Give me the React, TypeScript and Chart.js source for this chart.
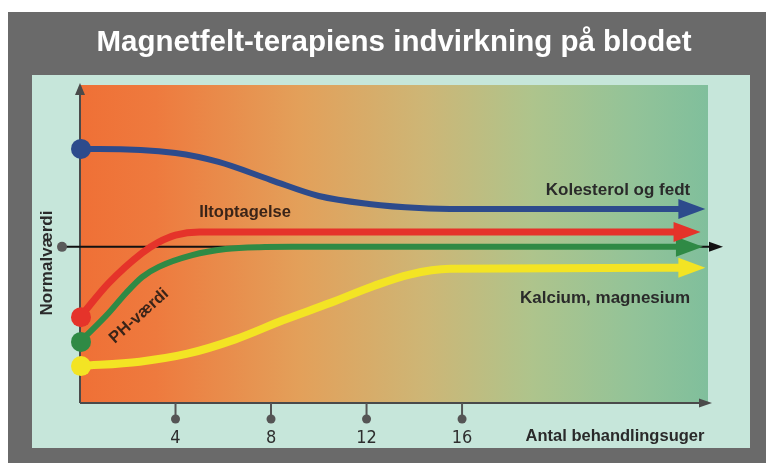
import React, { useEffect, useRef } from "react";
import { Chart, registerables } from "chart.js";

Chart.register(...registerables);

const TITLE = "Magnetfelt-terapiens indvirkning på blodet";
const X_LABEL = "Antal behandlingsuger";
const Y_LABEL = "Normalværdi";
const X_TICKS = [4, 8, 12, 16];
const NORMAL = 49.1;
const X_MAX = 26.3;

const SERIES_NAMES = ["Kolesterol og fedt", "Iltoptagelse", "PH-værdi", "Kalcium, magnesium"];

const kolesterolWeeks = [0, 0.8, 4.0, 5.8, 8.0, 10.0, 12.1, 14.2, 16.0, 25.1];
const kolesterolValues = [79.9, 79.9, 78.6, 75.8, 70.1, 65.1, 62.6, 61.3, 61.0, 61.0];

const iltWeeks = [0, 1.2, 2.6, 3.3, 4.0, 5.0, 24.9];
const iltValues = [27.0, 37.7, 47.2, 50.6, 52.8, 53.8, 53.8];

const phWeeks = [0, 1.2, 1.93, 2.6, 3.3, 4.7, 6.1, 7.5, 8.9, 25.0];
const phValues = [19.2, 28.3, 34.6, 39.6, 42.8, 46.5, 48.4, 49.0, 49.1, 49.1];

const kalciumWeeks = [0, 2.5, 4.5, 6.5, 8.5, 10.5, 12.3, 13.8, 15.5, 25.1];
const kalciumValues = [11.6, 13.0, 15.5, 20.0, 26.0, 31.5, 36.8, 40.4, 42.2, 42.5];

const COLORS = ["#2d4b8c", "#e5332a", "#2f8a45", "#f3e424"];
const WIDTHS = [6, 7, 6, 8];
const DOT_R = [10, 10, 10, 10];

const FONT = "'Liberation Sans', Arial, sans-serif";
const NARROW = "'Liberation Sans Narrow', 'DejaVu Sans Condensed', 'Liberation Sans', sans-serif";

function pts(xs: number[], ys: number[]) {
  return xs.map((x, i) => ({ x, y: ys[i] }));
}

const decorPlugin = {
  id: "decor",
  beforeDraw(chart: any) {
    const { ctx, chartArea: a } = chart;
    ctx.save();
    ctx.fillStyle = "#ffffff";
    ctx.fillRect(0, 0, chart.width, chart.height);
    ctx.fillStyle = "#6a6a6a";
    ctx.fillRect(8, 12, chart.width - 8, chart.height - 12);
    ctx.fillStyle = "#c6e6da";
    ctx.fillRect(32, 75, 750 - 32, 448 - 75);
    const g = ctx.createLinearGradient(a.left, 0, a.right, 0);
    g.addColorStop(0, "#ef7036");
    g.addColorStop(0.12, "#ee7a3e");
    g.addColorStop(0.35, "#e3a05a");
    g.addColorStop(0.55, "#cdb676");
    g.addColorStop(0.72, "#aec48c");
    g.addColorStop(0.88, "#93c398");
    g.addColorStop(1, "#80bf9c");
    ctx.fillStyle = g;
    ctx.fillRect(a.left, a.top, a.right - a.left, a.bottom - a.top);
    ctx.restore();
  },
  beforeDatasetsDraw(chart: any) {
    const { ctx, chartArea: a, scales } = chart;
    const xs = scales.x;
    const ys = scales.y;
    ctx.save();
    const axisCol = "#4a4a4a";
    ctx.strokeStyle = axisCol;
    ctx.fillStyle = axisCol;
    ctx.lineWidth = 2;
    // y axis
    ctx.beginPath();
    ctx.moveTo(a.left, a.bottom);
    ctx.lineTo(a.left, a.top + 8);
    ctx.stroke();
    ctx.beginPath();
    ctx.moveTo(a.left, a.top - 2);
    ctx.lineTo(a.left - 5, a.top + 10);
    ctx.lineTo(a.left + 5, a.top + 10);
    ctx.closePath();
    ctx.fill();
    // x axis
    ctx.beginPath();
    ctx.moveTo(a.left, a.bottom);
    ctx.lineTo(a.right - 6, a.bottom);
    ctx.stroke();
    ctx.beginPath();
    ctx.moveTo(a.right + 4, a.bottom);
    ctx.lineTo(a.right - 9, a.bottom - 4.5);
    ctx.lineTo(a.right - 9, a.bottom + 4.5);
    ctx.closePath();
    ctx.fill();
    // ticks
    ctx.fillStyle = "#555555";
    ctx.strokeStyle = "#555555";
    X_TICKS.forEach((t) => {
      const px = xs.getPixelForValue(t);
      ctx.beginPath();
      ctx.moveTo(px, a.bottom);
      ctx.lineTo(px, a.bottom + 14);
      ctx.stroke();
      ctx.beginPath();
      ctx.arc(px, a.bottom + 16, 4.5, 0, Math.PI * 2);
      ctx.fill();
    });
    ctx.fillStyle = "#2e2e2e";
    ctx.font = `18px ${NARROW}`;
    ctx.textAlign = "center";
    ctx.textBaseline = "middle";
    X_TICKS.forEach((t) => {
      ctx.fillText(String(t), xs.getPixelForValue(t), a.bottom + 35);
    });
    // x label
    ctx.fillStyle = "#2a2a2a";
    ctx.font = `bold 16.5px ${FONT}`;
    ctx.fillText(X_LABEL, 615, a.bottom + 33);
    // normal line
    const ny = ys.getPixelForValue(NORMAL);
    ctx.strokeStyle = "#111111";
    ctx.fillStyle = "#111111";
    ctx.lineWidth = 2;
    ctx.beginPath();
    ctx.moveTo(62, ny);
    ctx.lineTo(a.right + 5, ny);
    ctx.stroke();
    ctx.beginPath();
    ctx.moveTo(a.right + 15, ny);
    ctx.lineTo(a.right + 1, ny - 5);
    ctx.lineTo(a.right + 1, ny + 5);
    ctx.closePath();
    ctx.fill();
    ctx.fillStyle = "#5a5a5a";
    ctx.beginPath();
    ctx.arc(62, ny, 5, 0, Math.PI * 2);
    ctx.fill();
    // y label
    ctx.save();
    ctx.translate(47, 263);
    ctx.rotate(-Math.PI / 2);
    ctx.fillStyle = "#2a2a2a";
    ctx.font = `bold 17px ${FONT}`;
    ctx.textAlign = "center";
    ctx.textBaseline = "middle";
    ctx.fillText(Y_LABEL, 0, 0);
    ctx.restore();
    ctx.restore();
  },
  afterDatasetsDraw(chart: any) {
    const { ctx } = chart;
    ctx.save();
    chart.data.datasets.forEach((ds: any, i: number) => {
      const meta = chart.getDatasetMeta(i);
      const els = meta.data;
      const last = els[els.length - 1];
      const x = last.x;
      const y = last.y;
      ctx.fillStyle = ds.borderColor;
      ctx.beginPath();
      ctx.moveTo(x + 26, y);
      ctx.lineTo(x - 1, y - 10);
      ctx.lineTo(x - 1, y + 10);
      ctx.closePath();
      ctx.fill();
      const first = els[0];
      ctx.beginPath();
      ctx.arc(first.x + 1, first.y, DOT_R[i], 0, Math.PI * 2);
      ctx.fill();
    });
    ctx.fillStyle = "#2a2a2a";
    ctx.textAlign = "center";
    ctx.textBaseline = "middle";
    ctx.font = `bold 17px ${FONT}`;
    ctx.fillText(SERIES_NAMES[0], 618, 190);
    ctx.fillText(SERIES_NAMES[3], 605, 298);
    ctx.font = `bold 16.5px ${FONT}`;
    ctx.fillStyle = "#3a2418";
    ctx.fillText(SERIES_NAMES[1], 245, 212);
    ctx.save();
    ctx.translate(139, 316);
    ctx.rotate(-42 * Math.PI / 180);
    ctx.fillText(SERIES_NAMES[2], 0, 0);
    ctx.restore();
    ctx.restore();
  },
};

export default function App() {
  const ref = useRef<HTMLCanvasElement | null>(null);
  useEffect(() => {
    if (!ref.current) return;
    const datasets = [
      pts(kolesterolWeeks, kolesterolValues),
      pts(iltWeeks, iltValues),
      pts(phWeeks, phValues),
      pts(kalciumWeeks, kalciumValues),
    ].map((data, i) => ({
      label: SERIES_NAMES[i],
      data,
      borderColor: COLORS[i],
      backgroundColor: COLORS[i],
      borderWidth: WIDTHS[i],
      pointRadius: 0,
      cubicInterpolationMode: "monotone" as const,
      fill: false,
      borderCapStyle: "butt" as const,
    }));
    const chart = new Chart(ref.current, {
      type: "line",
      data: { datasets: [datasets[3], datasets[2], datasets[1], datasets[0]] },
      options: {
        animation: false,
        responsive: false,
        devicePixelRatio: 1,
        layout: { padding: { left: 80, right: 58, bottom: 60, top: 0 } },
        scales: {
          x: { type: "linear", min: 0, max: X_MAX, display: false },
          y: { type: "linear", min: 0, max: 100, display: false },
        },
        plugins: {
          legend: { display: false },
          tooltip: { enabled: false },
          title: {
            display: true,
            text: TITLE,
            color: "#ffffff",
            font: { family: FONT, size: 29.5, weight: "bold", lineHeight: 1.2 },
            padding: { top: 25.3, bottom: 24.3 },
          },
        },
      },
      plugins: [decorPlugin],
    });
    return () => chart.destroy();
  }, []);
  return (
    <div style={{ position: "fixed", left: 0, top: 0, width: 766, height: 463 }}>
      <canvas ref={ref} width={766} height={463} />
    </div>
  );
}
